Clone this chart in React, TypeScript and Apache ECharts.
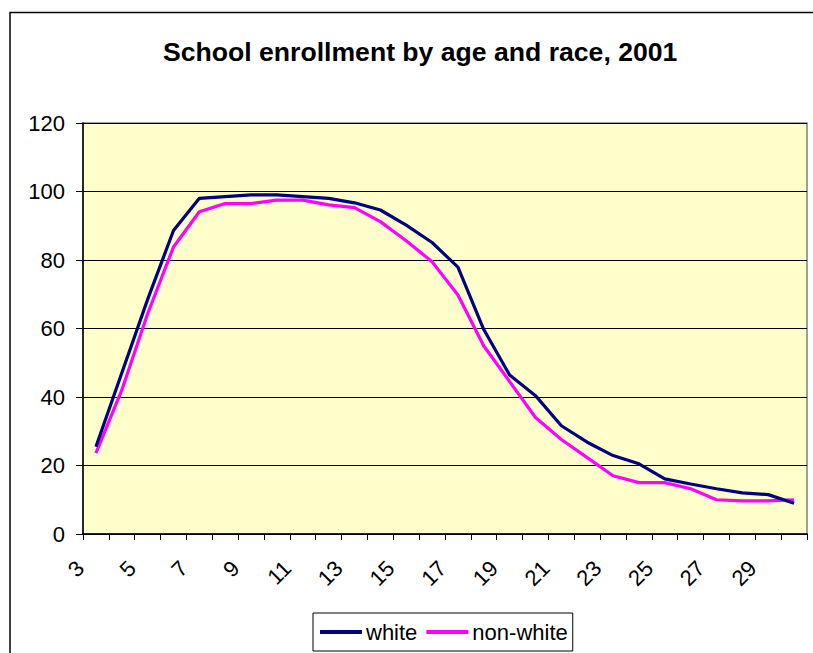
import React, { useEffect, useRef } from "react";
import * as echarts from "echarts";

const ages: string[] = [
  "3", "4", "5", "6", "7", "8", "9", "10", "11", "12", "13", "14", "15", "16",
  "17", "18", "19", "20", "21", "22", "23", "24", "25", "26", "27", "28", "29", "30",
];

const white: number[] = [
  25.5, 47, 68.5, 88.6, 98.0, 98.5, 99.0, 99.0, 98.5, 98.0, 96.7, 94.6, 90.2, 85.1,
  77.9, 59.7, 46.4, 40.4, 31.6, 26.8, 22.9, 20.5, 16.1, 14.6, 13.2, 12.0, 11.5, 9.0,
];

const nonWhite: number[] = [
  23.6, 42, 64.3, 83.8, 94.1, 96.5, 96.5, 97.5, 97.5, 96.1, 95.3, 91.2, 85.6, 79.5,
  69.8, 54.9, 44.5, 34.0, 27.6, 22.3, 17.0, 15.0, 15.0, 13.2, 10.0, 9.7, 9.7, 10.0,
];

const yTicks = { min: 0, max: 120, interval: 20 };

const FONT = "'Liberation Sans', Arial, sans-serif";

export default function App() {
  const ref = useRef<HTMLDivElement>(null);

  useEffect(() => {
    if (!ref.current) return;
    const chart = echarts.init(ref.current, undefined, { renderer: "svg" });
    chart.setOption({
      animation: false,
      backgroundColor: "#ffffff",
      textStyle: { fontFamily: FONT },
      title: {
        text: "School enrollment by age and race, 2001",
        left: 163,
        top: 38,
        padding: 0,
        textStyle: {
          fontFamily: FONT,
          fontSize: 26.6,
          fontWeight: "bold",
          color: "#000",
        },
      },
      graphic: [
        {
          type: "polyline",
          shape: { points: [[830, 12.5], [10, 12.5], [10, 700]] },
          style: { fill: "none", stroke: "#000", lineWidth: 1.5 },
          silent: true,
          z: -1,
        },
      ],
      legend: {
        left: 313,
        top: 613,
        padding: [8, 5, 8, 7],
        borderColor: "#000",
        borderWidth: 1,
        itemWidth: 42,
        itemHeight: 4,
        itemGap: 9,
        icon: "rect",
        textStyle: { fontFamily: FONT, fontSize: 22, color: "#000", padding: [0, 0, 0, -1] },
        data: ["white", "non-white"],
      },
      grid: {
        left: 83,
        top: 123,
        right: 6,
        bottom: 119,
        show: true,
        backgroundColor: "#FFFFCC",
        borderColor: "#808080",
        borderWidth: 1.5,
      },
      xAxis: {
        type: "category",
        data: ages,
        boundaryGap: true,
        axisLine: { show: true, lineStyle: { color: "#000", width: 1.5 } },
        axisTick: { show: true, interval: 0, length: 6, lineStyle: { color: "#000" } },
        axisLabel: {
          interval: 1,
          rotate: 45,
          margin: 15,
          padding: [0, 22, 0, 0],
          fontFamily: FONT,
          fontSize: 22,
          color: "#000",
        },
        splitLine: { show: false },
      },
      yAxis: {
        type: "value",
        min: yTicks.min,
        max: yTicks.max,
        interval: yTicks.interval,
        axisLine: { show: true, lineStyle: { color: "#000", width: 1.5 } },
        axisTick: { show: true, length: 7, lineStyle: { color: "#000" } },
        axisLabel: { margin: 18, fontFamily: FONT, fontSize: 22, color: "#000" },
        splitLine: { show: true, lineStyle: { color: "#000", width: 1 } },
      },
      series: [
        {
          name: "white",
          type: "line",
          data: white,
          symbol: "none",
          lineStyle: { color: "#000080", width: 3.2 },
          itemStyle: { color: "#000080" },
          z: 3,
        },
        {
          name: "non-white",
          type: "line",
          data: nonWhite,
          symbol: "none",
          lineStyle: { color: "#FF00FF", width: 3.2 },
          itemStyle: { color: "#FF00FF" },
          z: 2,
        },
      ],
    });
    return () => chart.dispose();
  }, []);

  return (
    <div
      ref={ref}
      style={{ position: "fixed", left: 0, top: 0, width: 813, height: 653 }}
    />
  );
}
